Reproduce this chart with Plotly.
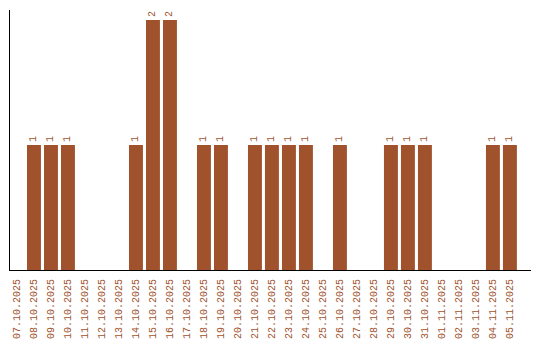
import plotly.graph_objects as go

dates = ["07.10.2025","08.10.2025","09.10.2025","10.10.2025","11.10.2025","12.10.2025",
         "13.10.2025","14.10.2025","15.10.2025","16.10.2025","17.10.2025","18.10.2025",
         "19.10.2025","20.10.2025","21.10.2025","22.10.2025","23.10.2025","24.10.2025",
         "25.10.2025","26.10.2025","27.10.2025","28.10.2025","29.10.2025","30.10.2025",
         "31.10.2025","01.11.2025","02.11.2025","03.11.2025","04.11.2025","05.11.2025"]
counts = [0,1,1,1,0,0,0,1,2,2,0,1,1,0,1,1,1,1,0,1,0,0,1,1,1,0,0,0,1,1]

color = "#A0522D"
labels = [str(v) if v > 0 else "" for v in counts]

fig = go.Figure(go.Bar(
    x=list(range(len(dates))), y=counts, marker_color=color, marker_line_width=0,
    text=labels, textposition="outside", textangle=-90, cliponaxis=False,
    textfont=dict(family="Liberation Mono", size=10, color=color),
))
fig.update_layout(
    width=540, height=340, margin=dict(l=10, r=9, t=10, b=70),
    paper_bgcolor="white", plot_bgcolor="white", bargap=0.18, showlegend=False,
    font=dict(family="Liberation Mono", size=10, color=color),
)
fig.update_xaxes(range=[-0.41, 30.24], tickmode="array", tickvals=list(range(len(dates))),
                 ticktext=dates, tickangle=-90, showgrid=False, zeroline=False,
                 showline=True, linecolor="black", linewidth=1, automargin=False,
                 ticks="outside", ticklen=4, tickcolor="rgba(0,0,0,0)",
                 tickfont=dict(family="Liberation Mono", size=10, color=color))
fig.update_yaxes(range=[0, 2.08], showticklabels=False, showgrid=False, zeroline=False,
                 showline=True, linecolor="black", linewidth=1, ticks="", automargin=False)
fig.write_html("out.html")
